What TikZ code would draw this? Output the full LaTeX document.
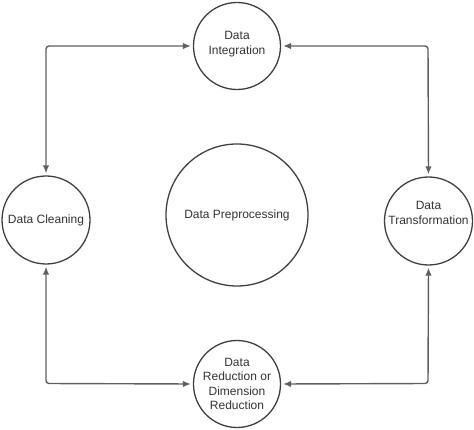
\documentclass[tikz,border=0pt]{standalone}
\usepackage{fontspec}
\setmainfont{Liberation Sans}
\usetikzlibrary{arrows.meta}
\definecolor{linec}{HTML}{5F5F5F}
\definecolor{circc}{HTML}{404040}
\definecolor{textc}{HTML}{333333}
\tikzset{
  stagetext/.style={text=textc, align=center, inner sep=0pt, font=\fontsize{12}{14.5}\selectfont},
  stage/.style={circle, draw=circc, line width=1.3pt, inner sep=0pt, stagetext},
  link/.style={draw=linec, line width=1.4pt, rounded corners=3pt,
    {Latex[length=8pt,width=6.5pt]}-{Latex[length=8pt,width=6.5pt]}, shorten <=2pt, shorten >=2pt}
}
\begin{document}
\begin{tikzpicture}[x=1pt,y=-1pt]
\useasboundingbox (0,0) rectangle (474,430);
\node[stage, minimum size=87pt, label={[stagetext, yshift=2pt]center:{Data\\Integration}}] (int) at (237,46) {};
\node[stage, minimum size=142pt] (pre) at (237,215) {Data Preprocessing};
\node[stage, minimum size=88pt] (cln) at (46,220) {Data Cleaning};
\node[stage, minimum size=88pt, label={[stagetext, yshift=8pt]center:{Data\\Transformation}}] (trf) at (428.5,221) {};
\node[stage, minimum size=87pt] (red) at (237,384) {Data\\Reduction or\\Dimension\\Reduction};
\coordinate (tl) at (46,46);
\coordinate (tr) at (428,46);
\coordinate (bl) at (46,383.5);
\coordinate (br) at (428,383.5);
\draw[link] (cln.north) -- (tl) -- (int.west);
\draw[link] (trf.north) -- (tr) -- (int.east);
\draw[link] (cln.south) -- (bl) -- (red.west);
\draw[link] (trf.south) -- (br) -- (red.east);
\end{tikzpicture}
\end{document}
